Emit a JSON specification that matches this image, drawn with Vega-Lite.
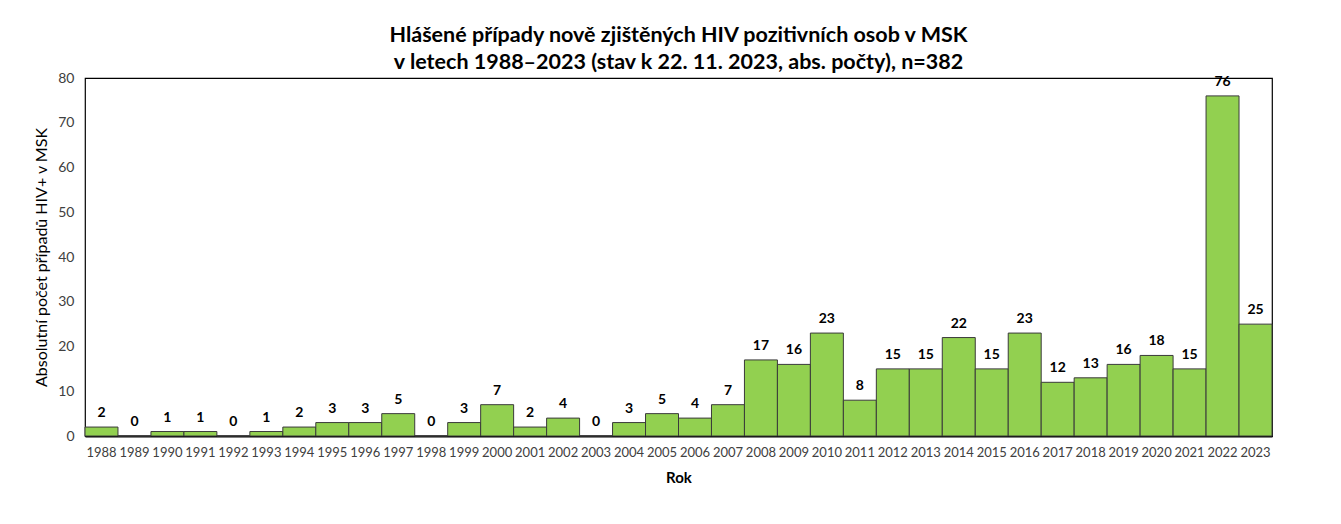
{
  "$schema": "https://vega.github.io/schema/vega-lite/v6.json",
  "width": 1187,
  "height": 358,
  "autosize": {"type": "none"},
  "padding": {"left": 85, "top": 78, "right": 69, "bottom": 88},
  "background": "white",
  "title": {
    "text": ["Hlášené případy nově zjištěných HIV pozitivních osob v MSK", "v letech 1988–2023 (stav k 22. 11. 2023, abs. počty), n=382"],
    "font": "Lato",
    "fontSize": 21.5,
    "fontWeight": "bold",
    "color": "#000000",
    "anchor": "middle",
    "lineHeight": 27,
    "offset": -2
  },
  "data": {
    "values": [
      {"rok": "1988", "pocet": 2}, {"rok": "1989", "pocet": 0}, {"rok": "1990", "pocet": 1},
      {"rok": "1991", "pocet": 1}, {"rok": "1992", "pocet": 0}, {"rok": "1993", "pocet": 1},
      {"rok": "1994", "pocet": 2}, {"rok": "1995", "pocet": 3}, {"rok": "1996", "pocet": 3},
      {"rok": "1997", "pocet": 5}, {"rok": "1998", "pocet": 0}, {"rok": "1999", "pocet": 3},
      {"rok": "2000", "pocet": 7}, {"rok": "2001", "pocet": 2}, {"rok": "2002", "pocet": 4},
      {"rok": "2003", "pocet": 0}, {"rok": "2004", "pocet": 3}, {"rok": "2005", "pocet": 5},
      {"rok": "2006", "pocet": 4}, {"rok": "2007", "pocet": 7}, {"rok": "2008", "pocet": 17},
      {"rok": "2009", "pocet": 16}, {"rok": "2010", "pocet": 23}, {"rok": "2011", "pocet": 8},
      {"rok": "2012", "pocet": 15}, {"rok": "2013", "pocet": 15}, {"rok": "2014", "pocet": 22},
      {"rok": "2015", "pocet": 15}, {"rok": "2016", "pocet": 23}, {"rok": "2017", "pocet": 12},
      {"rok": "2018", "pocet": 13}, {"rok": "2019", "pocet": 16}, {"rok": "2020", "pocet": 18},
      {"rok": "2021", "pocet": 15}, {"rok": "2022", "pocet": 76}, {"rok": "2023", "pocet": 25}
    ]
  },
  "encoding": {
    "x": {
      "field": "rok", "type": "ordinal",
      "scale": {"paddingInner": 0, "paddingOuter": 0},
      "axis": {
        "title": "Rok", "titleFont": "Lato", "titleFontSize": 15, "titleFontWeight": "bold", "titleColor": "#000000", "titlePadding": 11,
        "labelAngle": 0, "labelFont": "Lato", "labelFontSize": 13, "labelColor": "#404040", "labelPadding": 10,
        "ticks": false, "domain": true, "domainColor": "#000000", "domainWidth": 2
      }
    },
    "y": {
      "field": "pocet", "type": "quantitative",
      "scale": {"domain": [0, 80], "nice": false},
      "axis": {
        "title": "Absolutní počet případů HIV+ v MSK", "titleFont": "Lato", "titleFontSize": 16, "titleFontWeight": "normal", "titleColor": "#000000", "titlePadding": 8,
        "values": [0, 10, 20, 30, 40, 50, 60, 70, 80],
        "labelFont": "Lato", "labelFontSize": 14, "labelColor": "#404040", "labelPadding": 11,
        "ticks": false, "domain": false, "grid": false
      }
    }
  },
  "layer": [
    {"mark": {"type": "bar", "color": "#92D050", "stroke": "#3a3a3a", "strokeWidth": 1}},
    {
      "mark": {"type": "text", "baseline": "bottom", "dy": -7, "font": "Lato", "fontSize": 14, "fontWeight": "bold", "color": "#000000"},
      "encoding": {"text": {"field": "pocet", "type": "quantitative"}}
    }
  ],
  "config": {
    "view": {"stroke": "#000000", "strokeWidth": 1.2}
  }
}
